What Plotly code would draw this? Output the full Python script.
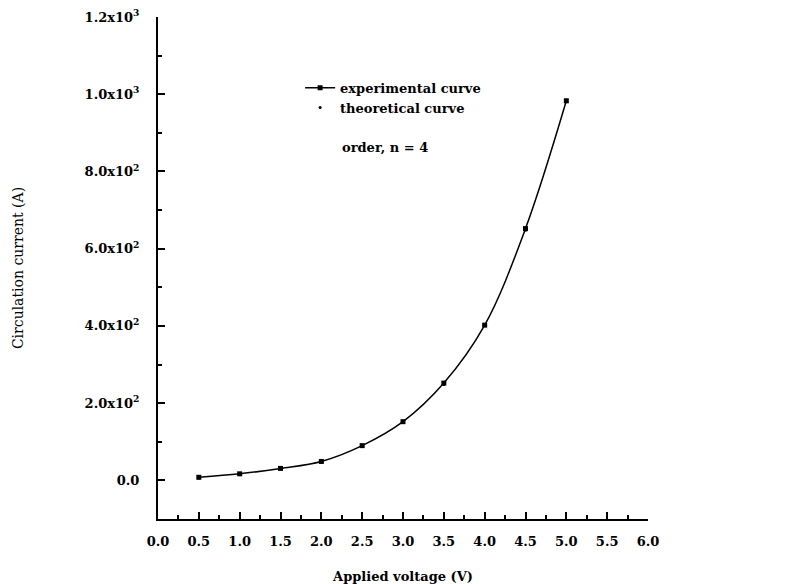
import plotly.graph_objects as go

voltage = [0.5, 1.0, 1.5, 2.0, 2.5, 3.0, 3.5, 4.0, 4.5, 5.0]
experimental = [8, 17, 31, 49, 90, 152, 252, 402, 652, 983]
theoretical = [6, 15, 30, 50, 88, 150, 248, 404, 648, 985]

x_tickvals = [0, 0.5, 1.0, 1.5, 2.0, 2.5, 3.0, 3.5, 4.0, 4.5, 5.0, 5.5, 6.0]
x_ticktext = ["0.0", "0.5", "1.0", "1.5", "2.0", "2.5", "3.0", "3.5", "4.0", "4.5", "5.0", "5.5", "6.0"]
y_tickvals = [0, 200, 400, 600, 800, 1000, 1200]
y_ticktext = ["0.0", "2.0x10<sup>2</sup>", "4.0x10<sup>2</sup>", "6.0x10<sup>2</sup>",
              "8.0x10<sup>2</sup>", "1.0x10<sup>3</sup>", "1.2x10<sup>3</sup>"]

serif = "DejaVu Serif"

fig = go.Figure()
fig.add_trace(go.Scatter(
    x=voltage, y=experimental, mode="lines+markers", name="experimental curve",
    line=dict(color="black", width=1.5, shape="spline"),
    marker=dict(symbol="square", size=5, color="black"),
))
fig.add_trace(go.Scatter(
    x=voltage, y=theoretical, mode="markers", name="theoretical curve",
    marker=dict(symbol="circle", size=3, color="black"),
))

fig.update_layout(
    width=786, height=584,
    paper_bgcolor="white", plot_bgcolor="white",
    margin=dict(l=150, r=146, t=9, b=73, autoexpand=False),
    font=dict(family=serif, color="black", size=13),
    legend=dict(x=0.29, y=0.889, xanchor="left", yanchor="top",
                bgcolor="rgba(0,0,0,0)", font=dict(family=serif, size=13, weight="bold"),
                tracegroupgap=0),
    xaxis=dict(range=[0, 6], tickvals=x_tickvals, ticktext=x_ticktext, automargin=False,
               showgrid=False, zeroline=False, showline=True, linecolor="black", linewidth=2,
               ticks="inside", ticklen=7, tickwidth=1.5, tickcolor="black",
               ticklabelstandoff=9,
               minor=dict(dtick=0.25, ticks="inside", ticklen=4, tickcolor="black", tickwidth=1.5),
               tickfont=dict(family=serif, size=13, weight="bold"),
               title=dict(text="Applied voltage (V)", font=dict(family=serif, size=13, weight="bold"), standoff=24)),
    yaxis=dict(range=[-100, 1200], tickvals=y_tickvals, ticktext=y_ticktext, automargin=False,
               showgrid=False, zeroline=False, showline=True, linecolor="black", linewidth=2,
               ticks="inside", ticklen=7, tickwidth=1.5, tickcolor="black",
               ticklabelstandoff=14, ticklabeloverflow="allow",
               minor=dict(tickvals=[-100, 100, 300, 500, 700, 900, 1100], ticks="inside", ticklen=4,
                          tickcolor="black", tickwidth=1.5),
               tickfont=dict(family=serif, size=13, weight="bold"),
               title=dict(text="Circulation current (A)", font=dict(family=serif, size=14), standoff=58)),
)
fig.add_annotation(x=0.371, y=0.741, xref="paper", yref="paper", xanchor="left", yanchor="middle",
                   text="order, n = 4", showarrow=False,
                   font=dict(family=serif, size=13, weight="bold"))

fig.write_html("out.html")
